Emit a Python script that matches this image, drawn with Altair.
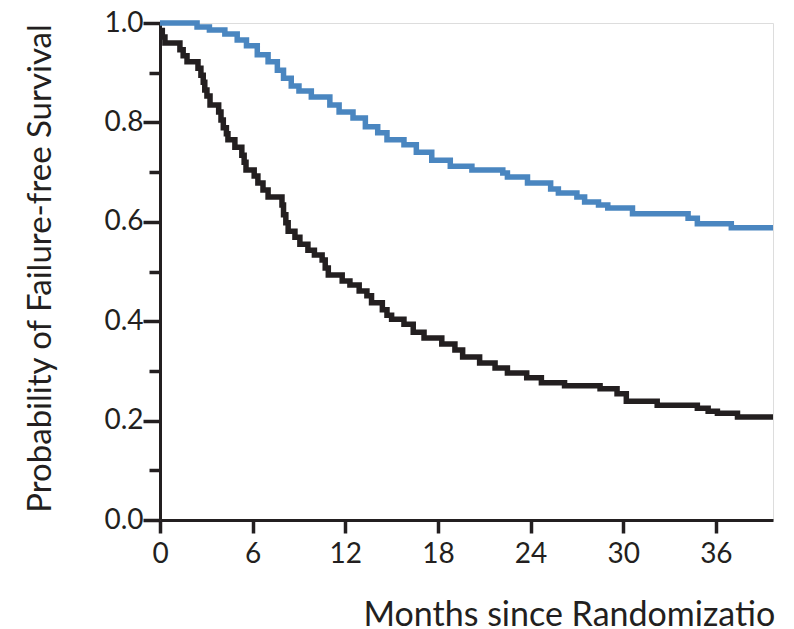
import altair as alt
import pandas as pd

# Blue arm (upper curve): step start month, survival probability
blue_months = [0, 2.4, 3.2, 4.2, 5.0, 5.6, 6.3, 7.0, 7.6, 8.0, 8.5, 9.0, 9.8, 11.0, 11.6,
               12.5, 13.3, 14.1, 14.7, 15.8, 16.6, 17.6, 18.8, 20.2, 22.2, 22.5, 23.8,
               25.3, 25.8, 27.0, 27.5, 28.4, 29.0, 30.6, 34.2, 34.8, 37.0, 39.7]
blue_surv = [1.0, 0.992, 0.986, 0.978, 0.966, 0.954, 0.936, 0.922, 0.905, 0.889, 0.873,
             0.863, 0.851, 0.835, 0.821, 0.809, 0.791, 0.779, 0.765, 0.755, 0.740, 0.724,
             0.712, 0.704, 0.698, 0.690, 0.678, 0.666, 0.658, 0.650, 0.640, 0.634, 0.628,
             0.616, 0.607, 0.596, 0.588, 0.588]

# Black arm (lower curve)
black_months = [0, 0.15, 0.32, 1.29, 1.5, 1.75, 2.46, 2.65, 2.8, 2.9, 3.04, 3.24, 3.8, 3.95,
                4.1, 4.3, 4.4, 4.85, 5.3, 5.45, 5.57, 6.1, 6.34, 6.67, 7.0, 7.9, 8.0, 8.15,
                8.3, 8.74, 9.06, 9.58, 10.0, 10.5, 10.7, 10.9, 11.8, 12.3, 12.9, 13.4, 13.7,
                14.4, 14.7, 15.0, 15.8, 16.4, 17.1, 18.25, 19.1, 19.6, 20.7, 21.7, 22.5,
                23.75, 24.7, 26.2, 28.5, 29.6, 30.2, 32.2, 34.8, 35.5, 36.1, 37.4, 39.7]
black_surv = [0.985, 0.972, 0.960, 0.946, 0.934, 0.922, 0.909, 0.895, 0.881, 0.865, 0.853,
              0.835, 0.821, 0.805, 0.789, 0.777, 0.765, 0.750, 0.734, 0.720, 0.704, 0.692,
              0.678, 0.664, 0.650, 0.634, 0.614, 0.598, 0.581, 0.569, 0.555, 0.543, 0.533,
              0.523, 0.507, 0.493, 0.481, 0.473, 0.461, 0.451, 0.437, 0.423, 0.412, 0.404,
              0.394, 0.378, 0.366, 0.354, 0.342, 0.328, 0.316, 0.306, 0.296, 0.286, 0.276,
              0.270, 0.264, 0.254, 0.239, 0.231, 0.225, 0.219, 0.215, 0.207, 0.207]

x_ticks = [0, 6, 12, 18, 24, 30, 36]
y_ticks = [0.0, 0.1, 0.2, 0.3, 0.4, 0.5, 0.6, 0.7, 0.8, 0.9, 1.0]

rows = []
for m, s in zip(blue_months, blue_surv):
    rows.append({"month": m, "surv": s, "arm": "blue"})
for m, s in zip(black_months, black_surv):
    rows.append({"month": m, "surv": s, "arm": "black"})
df = pd.DataFrame(rows)

AX = "#231f20"
FONT = "Lato"

x_enc = alt.X(
    "month:Q",
    scale=alt.Scale(domain=[0, 39.7], nice=False, zero=True),
    axis=alt.Axis(
        values=x_ticks, title="Months since Randomization", grid=False,
        domainColor=AX, domainWidth=3, tickColor=AX, tickWidth=3.5, tickSize=13,
        labelFont=FONT, labelFontSize=28, labelColor=AX, labelPadding=7,
        labelFlush=False,
        titleFont=FONT, titleFontSize=34, titleFontWeight="normal", titleColor=AX,
        titleAnchor="start", titleX=203, titleY=105, titleBaseline="alphabetic",
    ),
)
y_enc = alt.Y(
    "surv:Q",
    scale=alt.Scale(domain=[0, 1], nice=False),
    axis=alt.Axis(
        values=y_ticks, title="Probability of Failure-free Survival", grid=False,
        labelExpr="round(datum.value*10) % 2 == 0 ? format(datum.value, '.1f') : ''",
        domainColor=AX, domainWidth=3, tickColor=AX, tickWidth=3.5,
        tickSize={"condition": {"test": "round(datum.value*10) % 2 == 0", "value": 17}, "value": 11},
        labelFont=FONT, labelFontSize=28, labelColor=AX, labelPadding=0,
        labelFlush=False,
        titleFont=FONT, titleFontSize=33, titleFontWeight="normal", titleColor=AX,
        titleX=-110, titleY=245, titleBaseline="alphabetic",
    ),
)

chart = alt.Chart(df).mark_line(interpolate="step-after", strokeWidth=5.5).encode(
    x=x_enc,
    y=y_enc,
    color=alt.Color("arm:N", scale=alt.Scale(domain=["blue", "black"], range=["#4a86c0", "#231f20"]), legend=None),
    detail="arm:N",
).properties(
    width=613, height=497,
    autosize=alt.AutoSizeParams(type="none"),
    padding={"left": 152, "top": 15, "right": 2, "bottom": 109},
).configure_view(stroke=None).configure(background="white")

chart.save("out.html", embed_options={"renderer": "svg", "actions": False})
